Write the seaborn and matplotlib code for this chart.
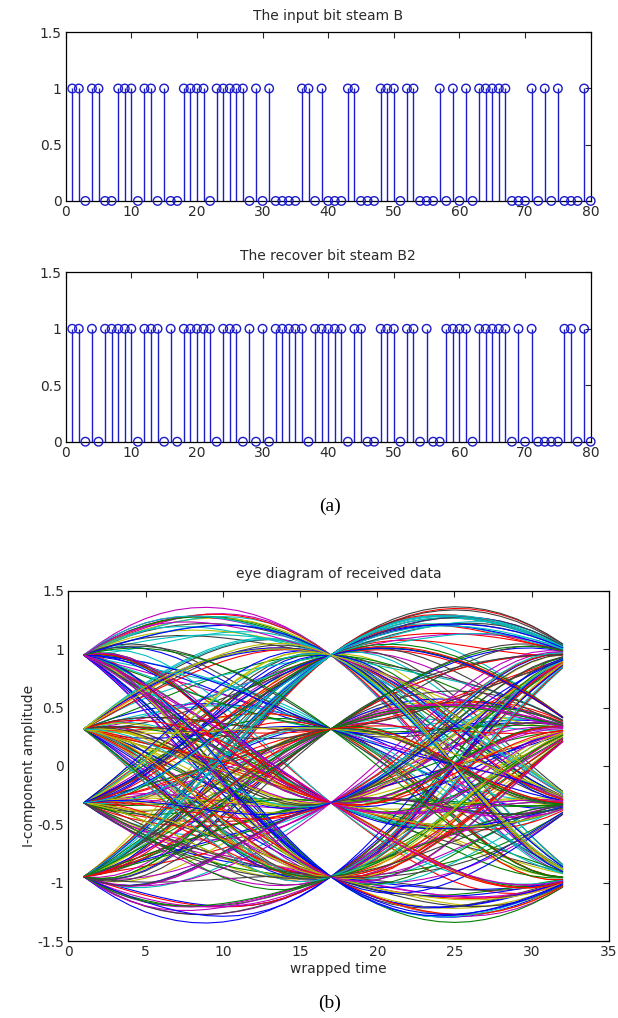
import numpy as np
import pandas as pd
import matplotlib
matplotlib.use("Agg")
import matplotlib.pyplot as plt
import seaborn as sns

# ---------------- data ----------------
bits_in = [1,1,0,1,1,0,0,1,1,1, 0,1,1,0,1,0,0,1,1,1,
           1,0,1,1,1,1,1,0,1,0, 1,0,0,0,0,1,1,0,1,0,
           0,0,1,1,0,0,0,1,1,1, 0,1,1,0,0,0,1,0,1,0,
           1,0,1,1,1,1,1,0,0,0, 1,0,1,0,1,0,0,0,1,0]
bits_rec = [1,1,0,1,0,1,1,1,1,1, 0,1,1,1,0,1,0,1,1,1,
            1,1,0,1,1,1,0,1,0,1, 0,1,1,1,1,1,0,1,1,1,
            1,1,0,1,1,0,0,1,1,1, 0,1,1,0,1,0,0,1,1,1,
            1,0,1,1,1,1,1,0,1,0, 1,0,0,0,0,1,1,0,1,0]
bit_index = list(range(1, 81))

# 4-level I-component symbols (16-QAM, normalised)
levels = [-0.949, -0.316, 0.316, 0.949]
symbol_str = ("3102231302112033010232213103201312300213"
              "3300213312002311330221003312201133002213"
              "1203321023011320231002133120302113220310"
              "0113322003120331100223311032200133021100"
              "0231120331021302213301203120231013202133"
              "2330011220331003221100332011230033112200"
              "2130012322031130203121033201213023110232"
              "1220033110223300113320012233100221133003"
              "3011203221301023312002131320310221033012"
              "0331122003300112233021100332211300112230"
              "1320230113022031203310213200312312013021"
              "3112200331102233001130022113300221033110"
              "0213312023011302321031203322101302132031"
              "2301132021033120213002312130231011320213"
              "31021302")
sps = 16          # samples per symbol
rolloff = 0.5     # raised-cosine roll-off
span = 6          # filter half-span in symbols

matlab_colors = [(0, 0, 1), (0, 0.5, 0), (1, 0, 0), (0, 0.75, 0.75),
                 (0.75, 0, 0.75), (0.75, 0.75, 0), (0.25, 0.25, 0.25)]

# ---------------- build eye traces ----------------
syms = np.array([levels[int(c)] for c in symbol_str])
def rc(t):
    d = 1 - (2 * rolloff * t) ** 2
    d = np.where(np.abs(d) < 1e-9, 1e-9, d)
    return np.sinc(t) * np.cos(np.pi * rolloff * t) / d

nsamp = len(syms) * sps
n = np.arange(nsamp)
sig = np.zeros(nsamp)
for k, a in enumerate(syms):
    sig += a * rc(n / sps - k)

rows = []
ntr = (len(syms) - 2 * span) // 2
for j in range(ntr):
    n0 = (span + 2 * j) * sps
    seg = sig[n0:n0 + 2 * sps]
    for i, v in enumerate(seg):
        rows.append((j, i + 1, v))
eye = pd.DataFrame(rows, columns=["trace", "t", "amp"])
palette = {j: matlab_colors[j % len(matlab_colors)] for j in range(ntr)}

# ---------------- figure ----------------
sns.set_style("white")
plt.rcParams["font.family"] = ["DejaVu Sans"]
txt = "#2a2a2a"
fs = 10

fig = plt.figure(figsize=(6.18, 10.18), dpi=100)
ax1 = fig.add_axes([0.1063, 0.8026, 0.8495, 0.1657])
ax2 = fig.add_axes([0.1063, 0.5661, 0.8495, 0.1664])
ax3 = fig.add_axes([0.1105, 0.0756, 0.8749, 0.3441])

stem_c = "#1c1cc8"
for ax, bits, title in [(ax1, bits_in, "The input bit steam B"),
                        (ax2, bits_rec, "The recover bit steam B2")]:
    ax.vlines(bit_index, 0, bits, color=stem_c, lw=1.0, zorder=2)
    sns.scatterplot(x=bit_index, y=bits, ax=ax, marker="o", s=38,
                    facecolors="none", edgecolors=stem_c, linewidth=1.0,
                    zorder=3, clip_on=False, legend=False)
    ax.set_xlim(0, 80)
    ax.set_ylim(0, 1.5)
    ax.set_xticks(range(0, 81, 10))
    ax.set_yticks([0, 0.5, 1, 1.5])
    ax.set_yticklabels(["0", "0.5", "1", "1.5"])
    ax.set_title(title, fontsize=fs, color=txt, pad=9)

sns.lineplot(data=eye, x="t", y="amp", units="trace", estimator=None,
             hue="trace", palette=palette, lw=0.8, ax=ax3, legend=False)
ax3.set_xlim(0, 35)
ax3.set_ylim(-1.5, 1.5)
ax3.set_xticks(range(0, 36, 5))
ax3.set_yticks([-1.5, -1, -0.5, 0, 0.5, 1, 1.5])
ax3.set_yticklabels(["-1.5", "-1", "-0.5", "0", "0.5", "1", "1.5"])
ax3.set_title("eye diagram of received data", fontsize=fs, color=txt, pad=9)
ax3.set_xlabel("wrapped time", fontsize=fs, color=txt, labelpad=2)
ax3.set_ylabel("I-component amplitude", fontsize=fs, color=txt, labelpad=1)

for ax in (ax1, ax2, ax3):
    ax.tick_params(direction="in", length=4, width=0.8, top=True, right=True,
                   labelsize=fs, labelcolor=txt, pad=3)
    for s in ax.spines.values():
        s.set_color("black")
        s.set_linewidth(0.9)
        s.set_visible(True)

fig.text(0.534, 1 - 506 / 1018, "(a)", ha="center", va="center",
         fontsize=14, family=["Liberation Serif"], color="black")
fig.text(0.534, 1 - 1003 / 1018, "(b)", ha="center", va="center",
         fontsize=14, family=["Liberation Serif"], color="black")

fig.savefig("out.png", dpi=100, facecolor="white")
